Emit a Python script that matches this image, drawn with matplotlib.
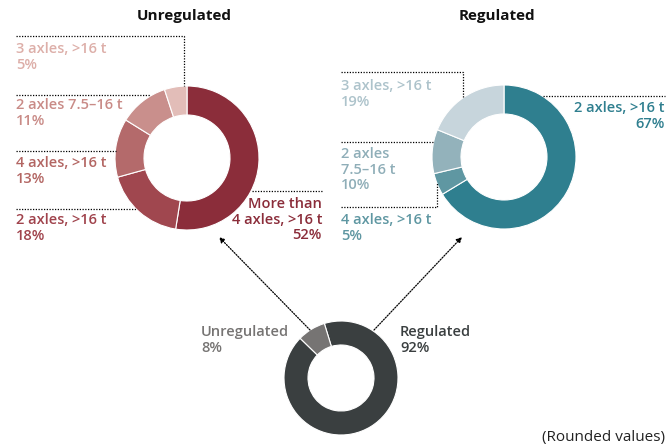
import matplotlib
matplotlib.use('Agg')
import matplotlib.pyplot as plt

W, H = 669, 446

# data
unreg_labels = ['More than\n4 axles, >16 t', '2 axles, >16 t', '4 axles, >16 t', '2 axles 7.5–16 t', '3 axles, >16 t']
unreg_values = [52, 18, 13, 11, 5]
unreg_colors = ['#8B2D3A', '#A0474F', '#B46A6B', '#C98F8C', '#E2BDB8']
unreg_text_colors = ['#8B2D3A', '#A0434C', '#B36663', '#C98B87', '#DDAFA9']

reg_labels = ['2 axles, >16 t', '4 axles, >16 t', '2 axles\n7.5–16 t', '3 axles, >16 t']
reg_values = [67, 5, 10, 19]
reg_colors = ['#2F7F8F', '#5F97A2', '#93B2BB', '#C7D5DC']
reg_text_colors = ['#2F7F8F', '#5F97A2', '#8FAEB8', '#ADC3CB']

total_labels = ['Regulated', 'Unregulated']
total_values = [92, 8]
total_colors = ['#3A3F40', '#767473']

plt.rcParams['font.family'] = ['Open Sans', 'DejaVu Sans']

fig = plt.figure(figsize=(W / 100, H / 100), dpi=100)
ax = fig.add_axes([0, 0, 1, 1])


def Y(y):
    return H - y


def donut(vals, cols, cx, cy, r, w, start=90):
    ax.pie(vals, colors=cols, startangle=start, counterclock=False,
           radius=r, center=(cx, Y(cy)),
           wedgeprops=dict(width=w, edgecolor='white', linewidth=0.8))


def dotted(xs, ys):
    ax.plot(xs, [Y(v) for v in ys], color='black', lw=0.9, ls=(0, (1, 1.2)))


def label(x, y, txt, col, ha='left'):
    ax.text(x, Y(y), txt, color=col, ha=ha, va='top', fontsize=10.5,
            fontweight='semibold', linespacing=1.15)


donut(unreg_values, unreg_colors, 187, 158, 72, 29)
donut(reg_values, reg_colors, 504, 157, 72, 29)
donut(total_values, total_colors, 341, 378, 57, 24, start=107)

ax.text(184, Y(16), 'Unregulated', ha='center', va='center', fontsize=11, fontweight='bold', color='#111111')
ax.text(497, Y(16), 'Regulated', ha='center', va='center', fontsize=11, fontweight='bold', color='#111111')

# unregulated leaders and labels
dotted([16, 184, 184], [36, 36, 86])
dotted([16, 150], [95, 95])
dotted([16, 116], [151, 151])
dotted([16, 136], [209, 209])
dotted([252, 322], [191, 191])

label(16, 42, unreg_labels[4] + '\n' + str(unreg_values[4]) + '%', unreg_text_colors[4])
label(16, 98, unreg_labels[3] + '\n' + str(unreg_values[3]) + '%', unreg_text_colors[3])
label(16, 156, unreg_labels[2] + '\n' + str(unreg_values[2]) + '%', unreg_text_colors[2])
label(16, 213, unreg_labels[1] + '\n' + str(unreg_values[1]) + '%', unreg_text_colors[1])
label(322, 197, unreg_labels[0] + '\n' + str(unreg_values[0]) + '%', unreg_text_colors[0], ha='right')

# regulated leaders and labels
dotted([341, 463, 463], [72, 72, 98])
dotted([341, 434], [142, 142])
dotted([341, 437, 437], [207, 207, 182])
dotted([543, 665], [96, 96])

label(341, 79, reg_labels[3] + '\n' + str(reg_values[3]) + '%', reg_text_colors[3])
label(341, 147, reg_labels[2] + '\n' + str(reg_values[2]) + '%', reg_text_colors[2])
label(341, 213, reg_labels[1] + '\n' + str(reg_values[1]) + '%', reg_text_colors[1])
label(665, 101, reg_labels[0] + '\n' + str(reg_values[0]) + '%', reg_text_colors[0], ha='right')

# arrows from totals donut
for x0, y0, x1, y1 in [(310, 330, 219, 237), (374, 330, 462, 237)]:
    ax.annotate('', xy=(x1, Y(y1)), xytext=(x0, Y(y0)),
                arrowprops=dict(arrowstyle='-|>', color='black', lw=0.9,
                                ls=(0, (1, 1.2)), mutation_scale=8, shrinkA=0, shrinkB=0))

label(201, 325, total_labels[1] + '\n' + str(total_values[1]) + '%', total_colors[1])
label(400, 325, total_labels[0] + '\n' + str(total_values[0]) + '%', total_colors[0])

ax.text(665, Y(438), '(Rounded values)', ha='right', va='center', fontsize=11, color='#222222')

ax.set_xlim(0, W)
ax.set_ylim(0, H)
ax.set_aspect('equal')
ax.axis('off')

fig.savefig('out.png', dpi=100)
